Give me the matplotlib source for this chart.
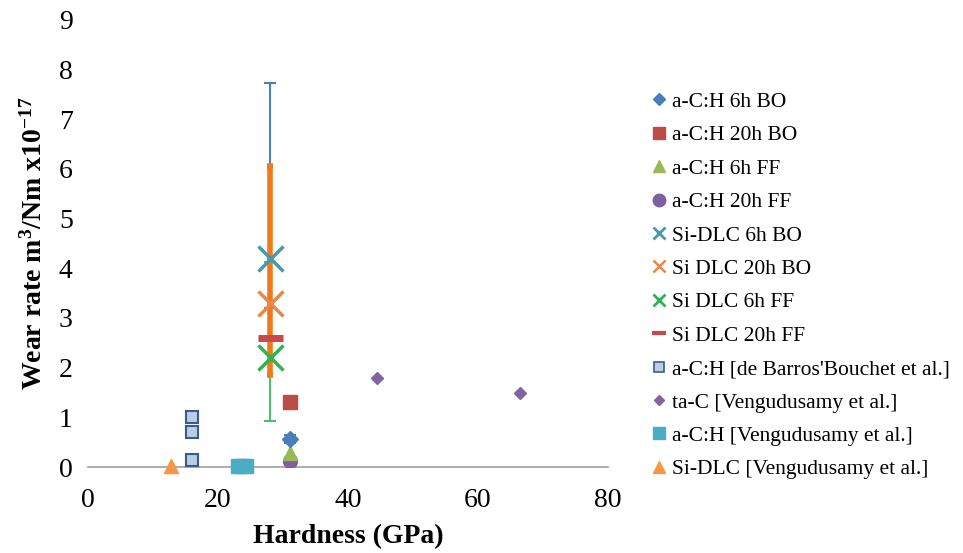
import matplotlib
matplotlib.use("Agg")
import matplotlib.pyplot as plt
from matplotlib.lines import Line2D

plt.rcParams['font.family'] = ['Liberation Serif', 'DejaVu Serif']
plt.rcParams['mathtext.fontset'] = 'custom'
plt.rcParams['mathtext.rm'] = 'Liberation Serif'
plt.rcParams['mathtext.bf'] = 'Liberation Serif:bold'
plt.rcParams['mathtext.it'] = 'Liberation Serif:italic'

# ---- data ----
labels = ["a-C:H 6h BO", "a-C:H 20h BO", "a-C:H 6h FF", "a-C:H 20h FF",
          "Si-DLC 6h BO", "Si DLC 20h BO", "Si DLC 6h FF", "Si DLC 20h FF",
          "a-C:H [de Barros'Bouchet et al.]", "ta-C [Vengudusamy et al.]",
          "a-C:H [Vengudusamy et al.]", "Si-DLC [Vengudusamy et al.]"]

acH6BO_x = [31]; acH6BO_y = [0.56]; acH6BO_err = [[0.08], [0.09]]
acH20BO_x = [31]; acH20BO_y = [1.3]
acH6FF_x = [31]; acH6FF_y = [0.28]
acH20FF_x = [31]; acH20FF_y = [0.13]
si6BO_x = [28]; si6BO_y = [4.2]; si6BO_err = [[1.0], [3.53]]
si20BO_x = [28]; si20BO_y = [3.3]; si20BO_err = [[1.45], [2.75]]
si6FF_x = [28]; si6FF_y = [2.22]; si6FF_err = [[1.29], [1.9]]
si20FF_x = [28]; si20FF_y = [2.6]
barros_x = [16, 16, 16]; barros_y = [1.0, 0.71, 0.15]
tac_x = [44.5, 66.5]; tac_y = [1.79, 1.49]
venACH_x = [23.0, 23.6, 24.3]; venACH_y = [0.02, 0.03, 0.02]
venSi_x = [12.8]; venSi_y = [0.02]

x_ticks = [0, 20, 40, 60, 80]
y_ticks = list(range(0, 10))

# ---- figure ----
fig = plt.figure(figsize=(9.63, 5.53), dpi=100)
ax = fig.add_axes([0.0914, 0.1555, 0.540, 0.8085])

c_blue = '#4a7ebb'; c_red = '#be4b48'; c_green = '#98b954'; c_purple = '#7d60a0'
c_teal = '#4a98b0'; c_orange = '#e8874a'; c_green2 = '#2db350'; c_red2 = '#c8484c'
c_lb_face = '#b9cde5'; c_lb_edge = '#385d8a'; c_tac = '#8064a2'; c_cyan = '#4bacc6'
c_or = '#f79646'

# error bars
ax.errorbar(si6BO_x, si6BO_y, yerr=si6BO_err, fmt='none', ecolor='#4a7ebb', elinewidth=1.5, capsize=4, capthick=1.5, zorder=2)
ax.errorbar(si20BO_x, si20BO_y, yerr=si20BO_err, fmt='none', ecolor='#f07a1a', elinewidth=4, capsize=2.5, capthick=4, zorder=3)
ax.errorbar(si6FF_x, si6FF_y, yerr=si6FF_err, fmt='none', ecolor='#4cc070', elinewidth=1.5, capsize=4, capthick=1.5, zorder=2.5)
ax.errorbar(acH6BO_x, acH6BO_y, yerr=acH6BO_err, fmt='none', ecolor=c_blue, elinewidth=1.5, capsize=4, capthick=1.5, zorder=2)

ax.plot(acH20FF_x, acH20FF_y, 'o', ms=10, color=c_purple, zorder=4)
ax.plot(acH6FF_x, acH6FF_y, '^', ms=10, color=c_green, zorder=4)
ax.plot(acH6BO_x, acH6BO_y, 'D', ms=8, color=c_blue, zorder=5)
ax.plot(acH20BO_x, acH20BO_y, 's', ms=10, color=c_red, zorder=4)
ax.plot(si6BO_x, si6BO_y, 'x', ms=18, mew=2.5, color=c_teal, zorder=5)
ax.plot(si20BO_x, si20BO_y, 'x', ms=18, mew=2.5, color=c_orange, zorder=5)
ax.plot(si6FF_x, si6FF_y, 'x', ms=18, mew=2.5, color=c_green2, zorder=5)
ax.plot(si20FF_x, si20FF_y, '_', ms=18, mew=5, color=c_red2, zorder=5)
ax.plot(barros_x, barros_y, 's', ms=8.5, mfc=c_lb_face, mec=c_lb_edge, mew=1.5, zorder=4)
ax.plot(tac_x, tac_y, 'D', ms=6, color=c_tac, zorder=4)
ax.plot(venACH_x, venACH_y, 's', ms=10, color=c_cyan, zorder=4, clip_on=False)
ax.plot(venSi_x, venSi_y, '^', ms=10, color=c_or, zorder=4, clip_on=False)

ax.set_xlim(0, 80)
ax.set_ylim(0, 9)
ax.set_xticks(x_ticks)
ax.set_yticks(y_ticks)
ax.tick_params(axis='both', length=0, labelsize=20)
ax.tick_params(axis='x', pad=15)
ax.tick_params(axis='y', pad=11)
for s in ['top', 'right', 'left']:
    ax.spines[s].set_visible(False)
ax.spines['bottom'].set_color('#a0a0a0')
ax.spines['bottom'].set_linewidth(1.2)

ax.set_xlabel('Hardness (GPa)', fontsize=20, fontweight='bold', labelpad=8)
ax.set_ylabel(r'Wear rate m$^{\mathbf{3}}$/Nm x10$^{\mathbf{-17}}$', fontsize=20, fontweight='bold', labelpad=8)

handles = [
    Line2D([], [], ls='none', marker='D', ms=6, color=c_blue),
    Line2D([], [], ls='none', marker='s', ms=9, color=c_red),
    Line2D([], [], ls='none', marker='^', ms=9, color=c_green),
    Line2D([], [], ls='none', marker='o', ms=9, color=c_purple),
    Line2D([], [], ls='none', marker='x', ms=9, mew=2, color=c_teal),
    Line2D([], [], ls='none', marker='x', ms=9, mew=1.8, color=c_orange),
    Line2D([], [], ls='none', marker='x', ms=9, mew=2, color=c_green2),
    Line2D([], [], ls='none', marker='_', ms=10, mew=3, color=c_red2),
    Line2D([], [], ls='none', marker='s', ms=7, mfc=c_lb_face, mec=c_lb_edge, mew=1.2),
    Line2D([], [], ls='none', marker='D', ms=5, color=c_tac),
    Line2D([], [], ls='none', marker='s', ms=8, color=c_cyan),
    Line2D([], [], ls='none', marker='^', ms=8, color=c_or),
]
fig.legend(handles, labels, loc='upper left', bbox_to_anchor=(0.678, 0.834),
           frameon=False, fontsize=15.5, handlelength=0.6, handletextpad=0.3,
           labelspacing=0.62, borderpad=0, borderaxespad=0)

fig.savefig('out.png', dpi=100)
